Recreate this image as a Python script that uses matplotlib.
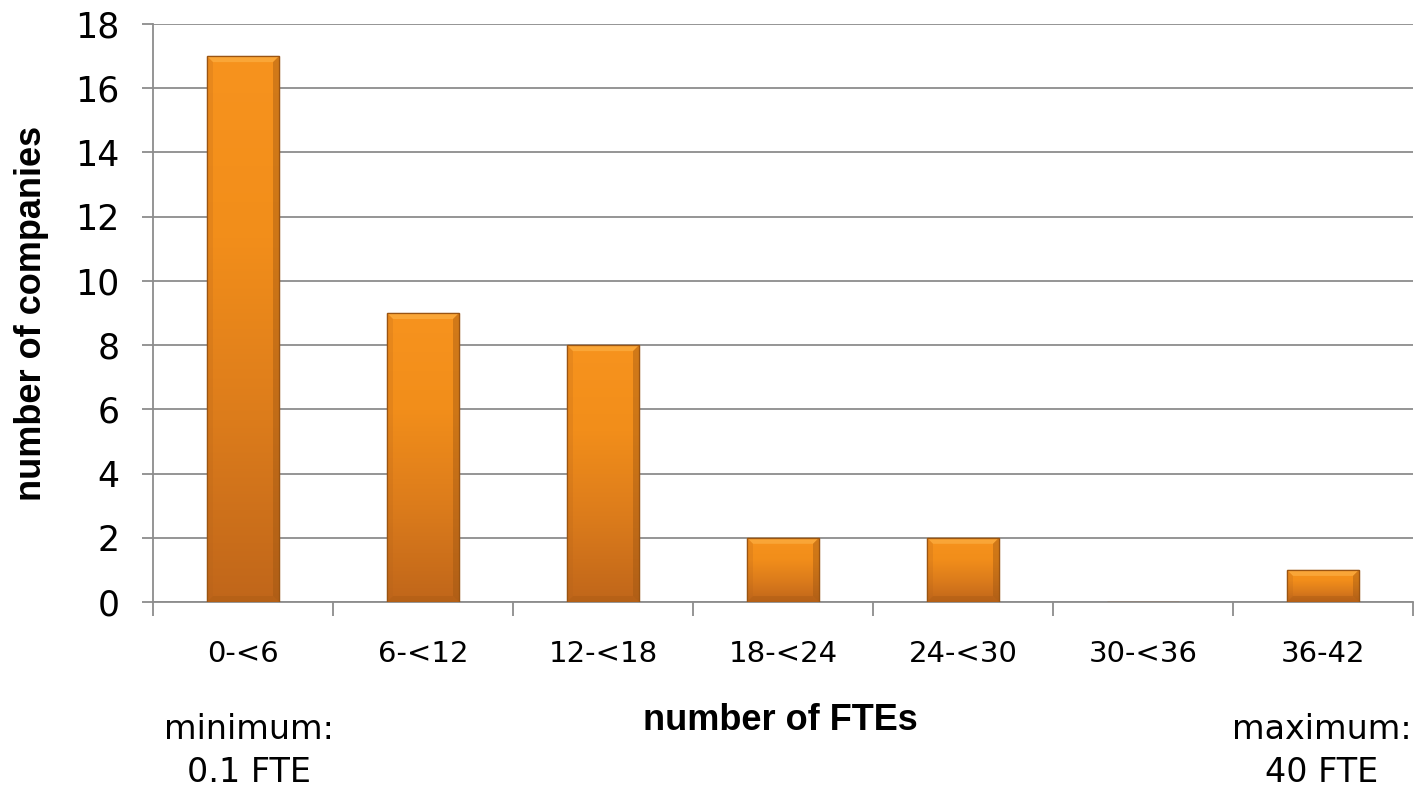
import matplotlib
matplotlib.use("Agg")
import matplotlib.pyplot as plt
import numpy as np
from matplotlib.colors import LinearSegmentedColormap
from matplotlib.patches import Polygon

categories = ["0-<6", "6-<12", "12-<18", "18-<24", "24-<30", "30-<36", "36-42"]
counts = [17, 9, 8, 2, 2, 0, 1]
yticks = [0, 2, 4, 6, 8, 10, 12, 14, 16, 18]

fig = plt.figure(figsize=(14.2, 7.88), dpi=100)
ax = fig.add_axes([153/1420, 1-602/788, (1413-153)/1420, (602-24)/788])
ax.set_xlim(-0.5, len(categories) - 0.5)
ax.set_ylim(0, 18)

x = np.arange(len(categories))
bars = ax.bar(x, counts, width=0.4, color="#F08C1C", edgecolor="#9A5412", linewidth=0.9, zorder=3)

# pixel -> data conversions for bevels
px_x = (len(categories)) / 1260.0
px_y = 18 / 578.0

cmap = LinearSegmentedColormap.from_list("org", ["#C0661A", "#DC7C1C", "#F28E1A", "#F7931E"])
grad = np.linspace(0, 1, 256).reshape(-1, 1)
for b in bars:
    h = b.get_height()
    if h <= 0:
        continue
    x0, w = b.get_x(), b.get_width()
    im = ax.imshow(grad, cmap=cmap, aspect="auto", origin="lower",
                   extent=[x0, x0 + w, 0, h], zorder=3.5, interpolation="bilinear")
    im.set_clip_path(b)
    bx, by = 6 * px_x, 6 * px_y
    x1 = x0 + w
    ax.add_patch(Polygon([[x0, h], [x1, h], [x1 - bx, h - by], [x0 + bx, h - by]],
                         closed=True, facecolor="#FDB44A", alpha=0.6, edgecolor="none", zorder=4))
    ax.add_patch(Polygon([[x0, 0], [x1, 0], [x1 - bx, by], [x0 + bx, by]],
                         closed=True, facecolor="#A85A14", alpha=0.4, edgecolor="none", zorder=4))
    ax.add_patch(Polygon([[x1, 0], [x1, h], [x1 - bx, h - by], [x1 - bx, by]],
                         closed=True, facecolor="#9A5412", alpha=0.4, edgecolor="none", zorder=4))
    ax.add_patch(Polygon([[x0, 0], [x0, h], [x0 + bx, h - by], [x0 + bx, by]],
                         closed=True, facecolor="#B0601A", alpha=0.2, edgecolor="none", zorder=4))
    ax.bar(x0 + w/2, h, width=w, fill=False, edgecolor="#9A5412", linewidth=0.9, zorder=4.5)

ax.set_yticks(yticks)
ax.set_yticklabels([str(t) for t in yticks], fontsize=25, family="DejaVu Sans")
ax.yaxis.grid(True, color="#8C8C8C", linewidth=1.3, zorder=0)
ax.set_axisbelow(True)

ax.set_xticks(x)
ax.set_xticklabels(categories, fontsize=21, family="DejaVu Sans")
ax.set_xticks(np.arange(-0.5, len(categories) + 0.5, 1), minor=True)
ax.tick_params(axis="x", which="major", length=0, pad=27)
ax.tick_params(axis="x", which="minor", length=10, width=1.3, color="#8C8C8C")
ax.tick_params(axis="y", length=8, width=1.3, color="#8C8C8C", pad=16)

for s in ["top", "right"]:
    ax.spines[s].set_visible(False)
for s in ["left", "bottom"]:
    ax.spines[s].set_color("#8C8C8C")
    ax.spines[s].set_linewidth(1.3)

fig.text(32/1420, 1-313/788, "number of companies", rotation=90, ha="center", va="center",
         fontsize=26, fontweight="bold", family="Liberation Sans")
fig.text(780/1420, 1-720/788, "number of FTEs", ha="center", va="center",
         fontsize=26, fontweight="bold", family="Liberation Sans")
fig.text(249/1420, 1-751/788, "minimum:\n0.1 FTE", ha="center", va="center",
         fontsize=24, family="DejaVu Sans", linespacing=1.35)
fig.text(1322/1420, 1-751/788, "maximum:\n40 FTE", ha="center", va="center",
         fontsize=24, family="DejaVu Sans", linespacing=1.35)

fig.savefig("out.png", dpi=100)
